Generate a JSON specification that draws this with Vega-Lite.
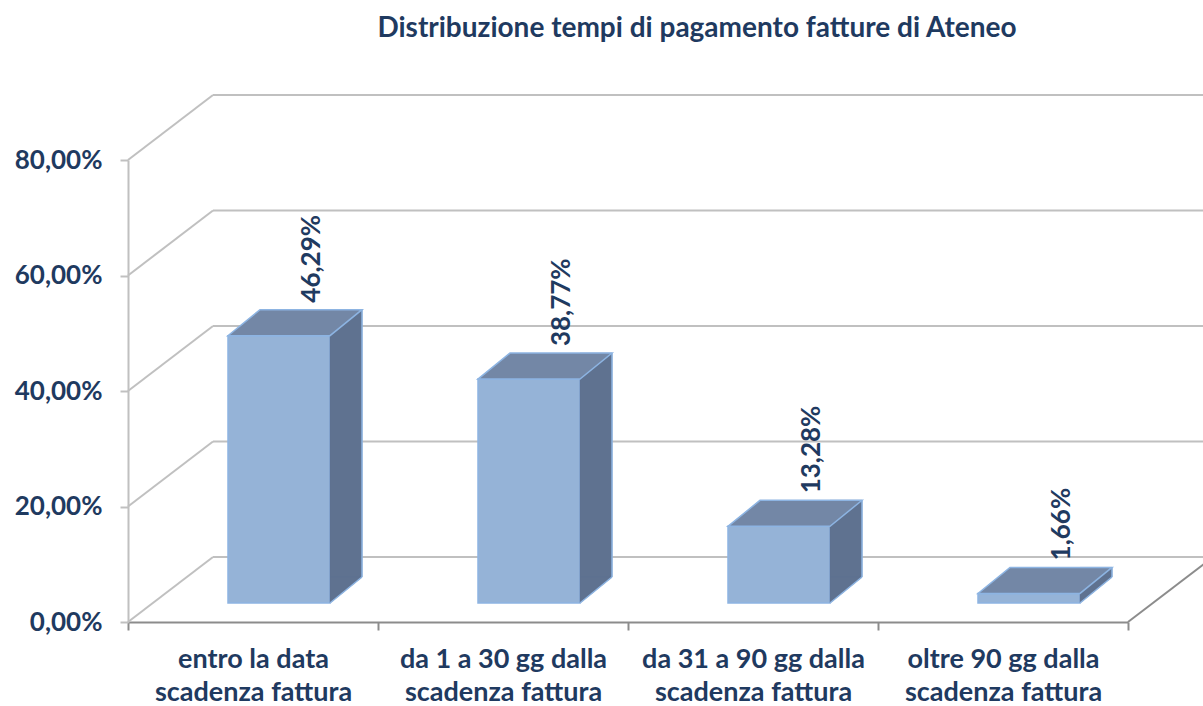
{
  "$schema": "https://vega.github.io/schema/vega-lite/v6.json",
  "width": 1000,
  "height": 462,
  "autosize": "none",
  "padding": {"left": 128, "top": 160, "right": 75, "bottom": 84},
  "background": "white",
  "title": {
    "text": "Distribuzione tempi di pagamento fatture di Ateneo",
    "font": "Lato",
    "fontSize": 28,
    "fontWeight": "bold",
    "color": "#1F3A60",
    "anchor": "middle",
    "dx": 69,
    "offset": 51
  },
  "config": {"view": {"stroke": null}, "font": "Lato"},
  "resolve": {"axis": {"x": "independent", "y": "independent"}},
  "datasets": {
    "barre": [
      {"categoria": "entro la data\nscadenza fattura", "valore": 46.29, "etichetta": "46,29%"},
      {"categoria": "da 1 a 30 gg dalla\nscadenza fattura", "valore": 38.77, "etichetta": "38,77%"},
      {"categoria": "da 31 a 90 gg dalla\nscadenza fattura", "valore": 13.28, "etichetta": "13,28%"},
      {"categoria": "oltre 90 gg dalla\nscadenza fattura", "valore": 1.66, "etichetta": "1,66%"}
    ],
    "livelli": [
      {"livello": 0}, {"livello": 20}, {"livello": 40}, {"livello": 60}, {"livello": 80}
    ]
  },
  "layer": [
    {
      "data": {"name": "livelli"},
      "mark": {"type": "rule", "color": "#C0C0C0", "strokeWidth": 2, "yOffset": -65, "y2Offset": -65, "x2Offset": 85},
      "encoding": {
        "x": {"value": 85},
        "x2": {"value": "width"},
        "y": {"field": "livello", "type": "quantitative", "scale": {"domain": [0, 80], "nice": false},
          "axis": {
            "title": null,
            "values": [0, 20, 40, 60, 80],
            "labelExpr": "replace(format(datum.value, '.2f'), '.', ',') + '%'",
            "labelFont": "Lato",
            "labelFontSize": 26,
            "labelFontWeight": "bold",
            "labelColor": "#1F3A60",
            "labelPadding": 18,
            "domainColor": "#C0C0C0",
            "domainWidth": 2,
            "tickColor": "#C0C0C0",
            "tickWidth": 2,
            "tickSize": 8,
            "grid": false
          }
        },
        "y2": {"field": "livello"}
      }
    },
    {
      "data": {"name": "livelli"},
      "mark": {"type": "rule", "color": "#C0C0C0", "strokeWidth": 2, "y2Offset": -65, "x2Offset": 85},
      "encoding": {
        "x": {"value": 0},
        "x2": {"value": 0},
        "y": {"field": "livello", "type": "quantitative", "axis": null},
        "y2": {"field": "livello"}
      }
    },
    {
      "data": {"name": "livelli"},
      "transform": [{"filter": "datum.livello == 0"}],
      "mark": {"type": "rule", "color": "#8C8C8C", "strokeWidth": 2, "y2Offset": -65, "x2Offset": 85},
      "encoding": {
        "x": {"value": "width"},
        "x2": {"value": "width"},
        "y": {"field": "livello", "type": "quantitative", "axis": null},
        "y2": {"field": "livello"}
      }
    },
    {
      "data": {"name": "barre"},
      "mark": {"type": "bar", "width": 102, "xOffset": 26, "yOffset": -19, "y2Offset": -19, "fill": "#95B3D7", "stroke": "#8DB4E2", "strokeWidth": 1.5},
      "encoding": {
        "x": {"field": "categoria", "type": "nominal", "sort": null,
          "scale": {"paddingInner": 0, "paddingOuter": 0},
          "axis": {
            "title": null,
            "labelExpr": "split(datum.label, '\\n')",
            "labelAngle": 0,
            "labelFont": "Lato",
            "labelFontSize": 27,
            "labelFontWeight": "bold",
            "labelColor": "#1F3A60",
            "labelLineHeight": 33,
            "labelPadding": 16,
            "labelLimit": 400,
            "labelOverlap": false,
            "labelBound": false,
            "domainColor": "#8C8C8C",
            "domainWidth": 2,
            "tickColor": "#8C8C8C",
            "tickWidth": 2,
            "tickSize": 8,
            "tickBand": "extent"
          }
        },
        "y": {"field": "valore", "type": "quantitative", "axis": null},
        "y2": {"datum": 0}
      }
    },
    {
      "data": {"name": "barre"},
      "mark": {"type": "bar", "width": 32, "xOffset": 93, "yOffset": -45, "y2Offset": -45, "fill": "#5F7290", "stroke": "#5F7290", "strokeWidth": 0.5},
      "encoding": {
        "x": {"field": "categoria", "type": "nominal", "sort": null, "axis": null},
        "y": {"field": "valore", "type": "quantitative", "axis": null},
        "y2": {"datum": 0}
      }
    },
    {
      "data": {"name": "barre"},
      "mark": {"type": "point", "shape": "M77,-45L77,-19L109,-45Z", "size": 4, "filled": true, "opacity": 1, "fill": "#5F7290", "stroke": "#5F7290", "strokeWidth": 0.5},
      "encoding": {
        "x": {"field": "categoria", "type": "nominal", "sort": null, "axis": null},
        "y": {"datum": 0, "type": "quantitative", "axis": null}
      }
    },
    {
      "data": {"name": "barre"},
      "mark": {"type": "rule", "xOffset": 109, "yOffset": -45, "y2Offset": -45, "color": "#8DB4E2", "strokeWidth": 1.5},
      "encoding": {
        "x": {"field": "categoria", "type": "nominal", "sort": null, "axis": null},
        "y": {"field": "valore", "type": "quantitative", "axis": null},
        "y2": {"datum": 0}
      }
    },
    {
      "data": {"name": "barre"},
      "mark": {"type": "point", "shape": "M77,-19L109,-45", "size": 4, "filled": false, "opacity": 1, "stroke": "#8DB4E2", "strokeWidth": 1.5},
      "encoding": {
        "x": {"field": "categoria", "type": "nominal", "sort": null, "axis": null},
        "y": {"datum": 0, "type": "quantitative", "axis": null}
      }
    },
    {
      "data": {"name": "barre"},
      "mark": {"type": "point", "shape": "M-25,-19L77,-19L109,-45L7,-45Z", "size": 4, "filled": true, "opacity": 1, "fill": "#7387A6", "stroke": "#8DB4E2", "strokeWidth": 1.5},
      "encoding": {
        "x": {"field": "categoria", "type": "nominal", "sort": null, "axis": null},
        "y": {"field": "valore", "type": "quantitative", "axis": null}
      }
    },
    {
      "data": {"name": "barre"},
      "mark": {"type": "text", "angle": 270, "align": "left", "baseline": "middle", "xOffset": 59, "yOffset": -52, "font": "Lato", "fontSize": 26, "fontWeight": "bold", "color": "#1F3A60"},
      "encoding": {
        "x": {"field": "categoria", "type": "nominal", "sort": null, "axis": null},
        "y": {"field": "valore", "type": "quantitative", "axis": null},
        "text": {"field": "etichetta"}
      }
    }
  ]
}
